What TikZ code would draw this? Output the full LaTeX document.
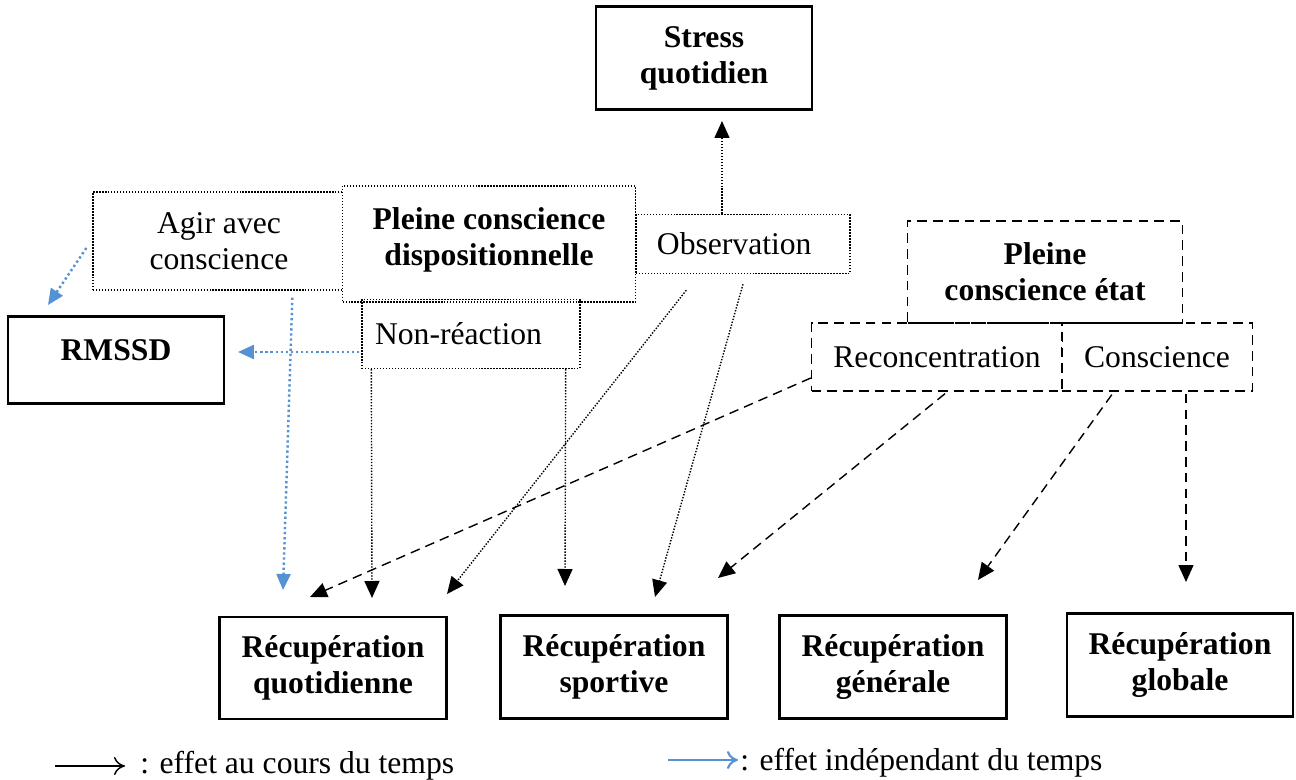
\documentclass[tikz,border=0pt]{standalone}
\usepackage{fontspec}
\setmainfont{Liberation Serif}
\usetikzlibrary{positioning,arrows.meta,calc}
\definecolor{effectBlue}{RGB}{84,146,212}

\begin{document}
\begin{tikzpicture}[x=0.02cm, y=-0.02cm,
        font=\fontsize{18}{20.5}\selectfont,
        every node/.style={align=center, inner sep=0pt},
        solidBox/.style={draw, line width=1.4pt},
        dotBox/.style={draw, line width=0.8pt, dash pattern=on 0.8pt off 0.9pt},
        dashBox/.style={draw, line width=0.8pt, dash pattern=on 5.5pt off 3.5pt},
        timeDot/.style={-{Triangle[length=0.34cm, width=0.3cm]}, line width=0.8pt, dash pattern=on 0.8pt off 0.9pt},
        timeDash/.style={-{Triangle[length=0.34cm, width=0.3cm]}, line width=0.8pt, dash pattern=on 5.5pt off 3.5pt},
        indepDot/.style={-{Triangle[length=0.32cm, width=0.28cm]}, effectBlue, line width=1.4pt, dash pattern=on 1.3pt off 1.6pt}
    ]
        \useasboundingbox (0,0) rectangle (1296,780);

        % Outcomes
        \node[solidBox, minimum width=4.32cm, minimum height=2.06cm] (stress) at (704,58) {\textbf{Stress}\\\textbf{quotidien}};
        \node[solidBox, minimum width=4.32cm, minimum height=1.74cm] (rmssd) at (116,360) {\textbf{RMSSD}\\[-9pt]\mbox{}};
        \node[solidBox, minimum width=4.54cm, minimum height=2.04cm] (recQuot) at (333,668) {\textbf{Récupération}\\\textbf{quotidienne}};
        \node[solidBox, minimum width=4.54cm, minimum height=2.06cm] (recSport) at (614,667) {\textbf{Récupération}\\\textbf{sportive}};
        \node[solidBox, minimum width=4.54cm, minimum height=2.06cm] (recGen) at (893,667) {\textbf{Récupération}\\\textbf{générale}};
        \node[solidBox, minimum width=4.52cm, minimum height=2.06cm] (recGlob) at (1180,665) {\textbf{Récupération}\\\textbf{globale}};

        % Dispositional mindfulness
        \node[dotBox, minimum width=5.04cm, minimum height=1.96cm] (agir) at (219,241) {Agir avec\\conscience};
        \node[dotBox, fill=white, minimum width=5.86cm, minimum height=2.32cm] (disp) at (489,244) {\textbf{Pleine conscience}\\\textbf{dispositionnelle}\\[-12pt]\mbox{}};
        \node[dotBox, minimum width=4.28cm, minimum height=1.18cm] (obs) at (743,244) {Observation\hspace{0.35cm}};
        \node[dotBox, minimum width=4.36cm, minimum height=1.38cm] (nonReac) at (471,334) {Non-réaction\hspace{0.5cm}};

        % State mindfulness
        \node[dashBox, minimum width=5.5cm, minimum height=2.04cm] (etat) at (1045,272) {\textbf{Pleine}\\\textbf{conscience état}};
        \node[dashBox, minimum width=5.02cm, minimum height=1.36cm] (reconc) at (937,357) {Reconcentration};
        \node[dashBox, minimum width=3.82cm, minimum height=1.36cm] (consc) at (1157,357) {Conscience};

        % Arrow ends
        \coordinate (tStress) at (722,121);
        \coordinate (tRmssdA) at (48,305);
        \coordinate (tRmssdN) at (238,352);
        \coordinate (tQuotA) at (283,590);
        \coordinate (tQuotN) at (372,598);
        \coordinate (tQuotO) at (447,594);
        \coordinate (tQuotR) at (310,597);
        \coordinate (tSportN) at (565,586);
        \coordinate (tSportO) at (655,597);
        \coordinate (tSportR) at (718,578);
        \coordinate (tGen) at (978,580);
        \coordinate (tGlob) at (1186,582);

        % Effects over time
        \draw[timeDot] ($(obs.north)+(-21,0)$) -- (tStress);
        \draw[timeDot] ($(nonReac.south west)+(10,0)$) -- (tQuotN);
        \draw[timeDot] ($(nonReac.south east)+(-15,0)$) -- (tSportN);
        \draw[timeDot] ($(obs.south west)+(51,16)$) -- (tQuotO);
        \draw[timeDot] ($(obs.south)+(0,10)$) -- (tSportO);
        \draw[timeDash] ($(reconc.west)+(0,21)$) -- (tQuotR);
        \draw[timeDash] ($(reconc.south)+(8,2)$) -- (tSportR);
        \draw[timeDash] ($(consc.south west)+(51,3)$) -- (tGen);
        \draw[timeDash] ($(consc.south)+(29,2)$) -- (tGlob);

        % Time-independent effects
        \draw[indepDot] ($(agir.west)+(-6,7)$) -- (tRmssdA);
        \draw[indepDot] ($(agir.south west)+(200,7)$) -- (tQuotA);
        \draw[indepDot] ($(nonReac.west)+(-2,18)$) -- (tRmssdN);

        % Legend
        \node[anchor=west] (legTime) at (140,766) {: effet au cours du temps};
        \node[anchor=west] (legIndep) at (740,763) {: effet indépendant du temps};
        \coordinate (legTimeStart) at (55,766);
        \coordinate (legIndepStart) at (668,760);
        \draw[-{To[length=0.22cm, width=0.36cm]}, line width=0.8pt] (legTimeStart) -- ($(legTime.west)+(-15,0)$);
        \draw[-{To[length=0.22cm, width=0.36cm]}, effectBlue, line width=1.2pt] (legIndepStart) -- ($(legIndep.west)+(-2,-3)$);
\end{tikzpicture}
\end{document}
